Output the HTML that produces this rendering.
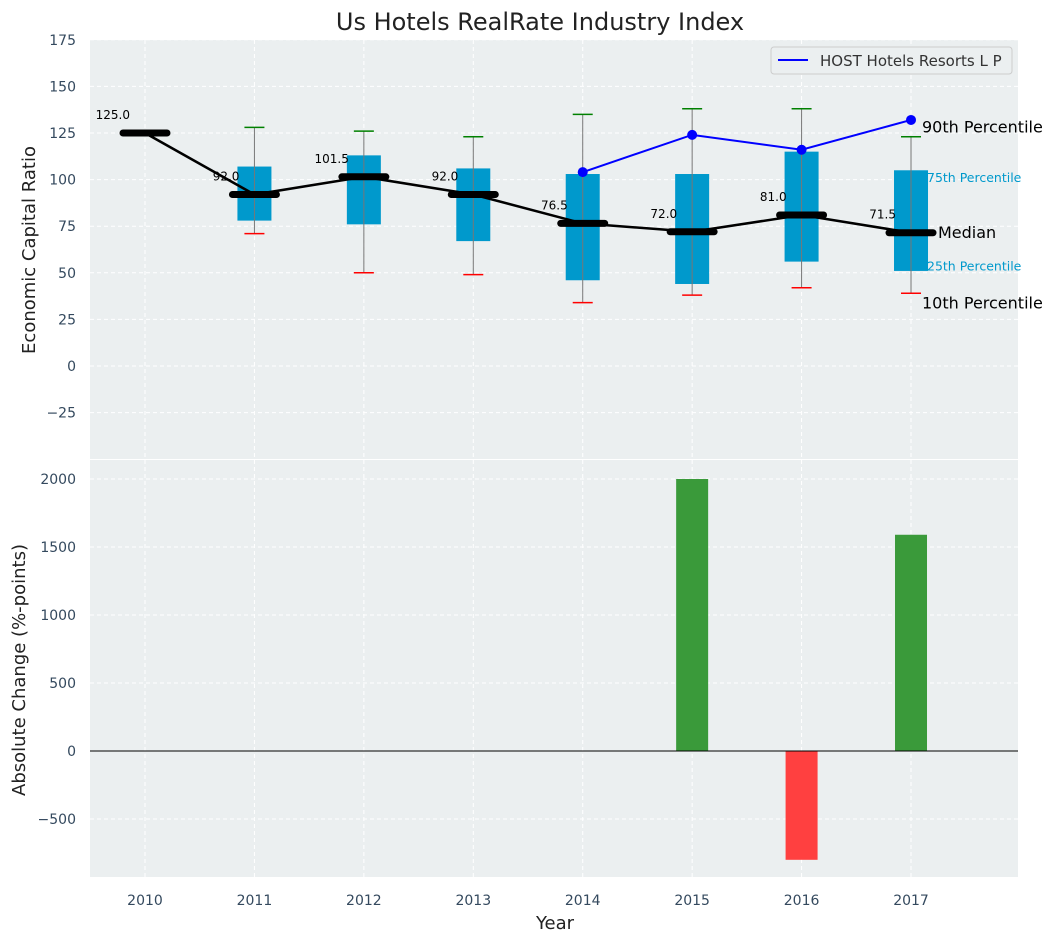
<!DOCTYPE html>
<html><head><meta charset="utf-8"><style>
body{margin:0;background:#fff}
svg text{font-family:"DejaVu Sans","Liberation Sans",sans-serif}
</style></head><body>
<svg id="c" width="1057" height="942" xmlns="http://www.w3.org/2000/svg">
<text x="540" y="30" font-size="24" text-anchor="middle" fill="#222">Us Hotels RealRate Industry Index</text>
<rect x="90" y="40" width="928" height="419" fill="#ebeff0"/>
<rect x="90" y="460" width="928" height="417" fill="#ebeff0"/>
<g id="grid"></g><g id="marks"></g><g id="axes"></g>
<text x="35" y="250" font-size="18" text-anchor="middle" fill="#222" transform="rotate(-90 35 250)">Economic Capital Ratio</text>
<text x="25" y="670" font-size="18" text-anchor="middle" fill="#222" transform="rotate(-90 25 670)">Absolute Change (%-points)</text>
<text x="555" y="929" font-size="18" text-anchor="middle" fill="#222">Year</text>
<g>
<rect x="771" y="47" width="241" height="27" rx="3" fill="#ebeff0" stroke="#ccc"/>
<line x1="778" y1="60" x2="808" y2="60" stroke="#0000ff" stroke-width="2"/>
<text x="820" y="66" font-size="15" fill="#333">HOST Hotels Resorts L P</text>
</g>
</svg>
<script>
const years=[2010,2011,2012,2013,2014,2015,2016,2017];
const medians=[125,92,101.5,92,76.5,72,81,71.5];
const p25=[null,78,76,67,46,44,56,51];
const p75=[null,107,113,106,103,103,115,105];
const p10=[null,71,50,49,34,38,42,39];
const p90=[null,128,126,123,135,138,138,123];
const hostYears=[2014,2015,2016,2017];
const hostValues=[104,124,116,132];
const changes=[0,0,0,0,0,2000,-800,1590];
const topTicks=[-25,0,25,50,75,100,125,150,175];
const botTicks=[-500,0,500,1000,1500,2000];

const NS="http://www.w3.org/2000/svg";
const X=v=>145+(v-2010)*109.43;
const Y1=v=>366-v*1.864;
const Y2=v=>751-v*0.136;
function mk(p,t,a){const e=document.createElementNS(NS,t);for(const k in a)e.setAttribute(k,a[k]);document.getElementById(p).appendChild(e);return e;}
years.forEach(y=>{
 let g=mk('grid','line',{x1:X(y),x2:X(y),y1:40,y2:459,stroke:'#fff','stroke-dasharray':'4,3'});
 
 
 g=mk('grid','line',{x1:X(y),x2:X(y),y1:460,y2:877,stroke:'#fff','stroke-dasharray':'4,3'});
 
 
 const t=mk('axes','text',{x:X(y),y:905,'font-size':14,'text-anchor':'middle',fill:'#34495e'});t.textContent=y;
 
 
});
topTicks.forEach(v=>{
 const g=mk('grid','line',{x1:90,x2:1018,y1:Y1(v),y2:Y1(v),stroke:'#fff','stroke-dasharray':'4,3'});
 
 
 const t=mk('axes','text',{x:76,y:Y1(v)+5,'font-size':14,'text-anchor':'end',fill:'#34495e'});t.textContent=v<0?'\u2212'+(-v):v;
 
 
});
botTicks.forEach(v=>{
 const g=mk('grid','line',{x1:90,x2:1018,y1:Y2(v),y2:Y2(v),stroke:'#fff','stroke-dasharray':'4,3'});
 
 
 const t=mk('axes','text',{x:76,y:Y2(v)+5,'font-size':14,'text-anchor':'end',fill:'#34495e'});t.textContent=v<0?'\u2212'+(-v):v;
 
 
});
years.forEach((y,i)=>{
 if(p25[i]==null)return;
 const b=mk('marks','rect',{x:X(y)-17,y:Y1(p75[i]),width:34,height:Y1(p25[i])-Y1(p75[i]),fill:'#0099cc'});
 
 
 const w=mk('marks','line',{x1:X(y),x2:X(y),y1:Y1(p10[i]),y2:Y1(p90[i]),stroke:'#777','stroke-width':1});
 
 
 const c1=mk('marks','line',{x1:X(y)-10,x2:X(y)+10,y1:Y1(p90[i]),y2:Y1(p90[i]),stroke:'green','stroke-width':1.5});
 
 
 const c2=mk('marks','line',{x1:X(y)-10,x2:X(y)+10,y1:Y1(p10[i]),y2:Y1(p10[i]),stroke:'red','stroke-width':1.5});
 
 
});
const ml=mk('marks','polyline',{points:years.map((y,i)=>X(y)+','+Y1(medians[i])).join(' '),fill:'none',stroke:'#000','stroke-width':2.5});


years.forEach((y,i)=>{
 const m=mk('marks','line',{x1:X(y)-22,x2:X(y)+22,y1:Y1(medians[i]),y2:Y1(medians[i]),stroke:'#000','stroke-width':7,'stroke-linecap':'round'});
 
 
 const t=mk('marks','text',{x:X(y)-15,y:Y1(medians[i])-14,'font-size':12,'text-anchor':'end',fill:'#000'});t.textContent=medians[i].toFixed(1);
 
 
});
const hl=mk('marks','polyline',{points:hostYears.map((y,i)=>X(y)+','+Y1(hostValues[i])).join(' '),fill:'none',stroke:'#0000ff','stroke-width':2});


hostYears.forEach((y,i)=>{
 const p=mk('marks','circle',{cx:X(y),cy:Y1(hostValues[i]),r:5,fill:'#0000ff'});
 
 
});
const L=years.length-1,lx=X(years[L]);
[['90th Percentile',p90[L]+5.5,16,'#000',lx+11],['75th Percentile',p75[L]-3,12.5,'#0099cc',lx+16],['Median',medians[L]+0.5,16,'#000',lx+27],['25th Percentile',p25[L]+3.5,12.5,'#0099cc',lx+16],['10th Percentile',p10[L]-5,16,'#000',lx+11]].forEach(a=>{
 const t=mk('marks','text',{x:a[4],y:Y1(a[1])+6,'font-size':a[2],fill:a[3]});t.textContent=a[0];
 
 
});
years.forEach((y,i)=>{
 if(!changes[i])return;
 const v=changes[i];
 const b=mk('marks','rect',{x:X(y)-16,y:Math.min(Y2(v),Y2(0)),width:32,height:Math.abs(Y2(v)-Y2(0)),fill:v>0?'#3a9a3a':'#ff4040'});
 
 
});
const z=mk('marks','line',{x1:90,x2:1018,y1:Y2(0),y2:Y2(0),stroke:'#000','stroke-width':1});


</script>
</body></html>
